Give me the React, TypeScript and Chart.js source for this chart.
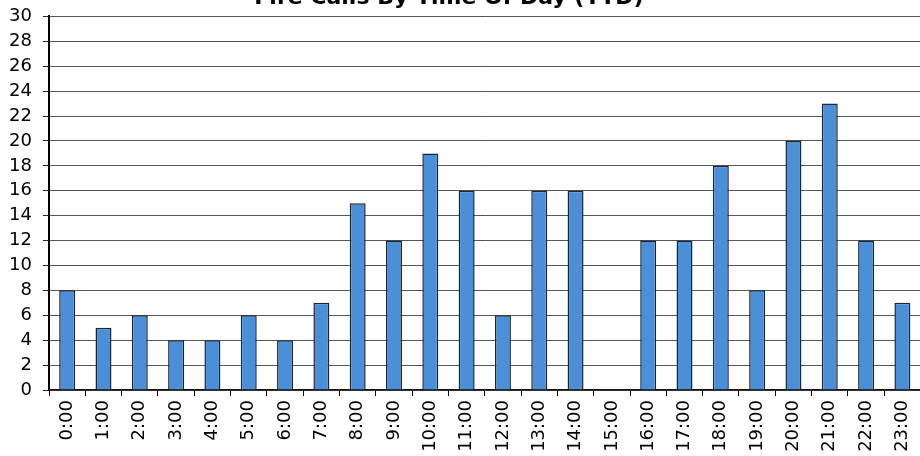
import React, { useEffect, useRef } from "react";
import { Chart, registerables } from "chart.js";

Chart.register(...registerables);

const TITLE = "Fire Calls By Time Of Day (YTD)";
const hours = [
  "0:00", "1:00", "2:00", "3:00", "4:00", "5:00", "6:00", "7:00",
  "8:00", "9:00", "10:00", "11:00", "12:00", "13:00", "14:00", "15:00",
  "16:00", "17:00", "18:00", "19:00", "20:00", "21:00", "22:00", "23:00",
];
const calls = [8, 5, 6, 4, 4, 6, 4, 7, 15, 12, 19, 16, 6, 16, 16, 0, 12, 12, 18, 8, 20, 23, 12, 7];
const yMin = 0;
const yMax = 30;
const yStep = 2;

export default function App() {
  const ref = useRef<HTMLCanvasElement | null>(null);

  useEffect(() => {
    if (!ref.current) return;
    const chart = new Chart(ref.current, {
      type: "bar",
      data: {
        labels: hours,
        datasets: [
          {
            data: calls,
            backgroundColor: "#4b8fd9",
            borderColor: "#1b2636",
            borderWidth: 1.5,
            categoryPercentage: 1,
            barPercentage: 0.44,
          },
        ],
      },
      options: {
        responsive: false,
        animation: false,
        layout: { padding: 0 },
        plugins: {
          legend: { display: false },
          tooltip: { enabled: false },
          title: {
            display: true,
            text: TITLE,
            color: "#000",
            font: { family: "DejaVu Sans", size: 22, weight: "bold" },
            padding: { top: 10, bottom: 5 },
          },
        },
        scales: {
          x: {
            afterFit: (s: any) => {
              s.height = 66;
            },
            grid: {
              offset: true,
              drawOnChartArea: false,
              drawTicks: true,
              tickLength: 6,
              color: "#000",
            },
            border: { display: true, color: "#111", width: 1.5 },
            ticks: {
              minRotation: 90,
              maxRotation: 90,
              autoSkip: false,
              padding: 4,
              color: "#000",
              font: { family: "DejaVu Sans", size: 18 },
            },
          },
          y: {
            min: yMin,
            max: yMax,
            afterFit: (s: any) => {
              s.width = 79;
            },
            grid: {
              color: "#555",
              lineWidth: 1,
              tickLength: 6,
              tickColor: "#222",
            },
            border: { display: true, color: "#000", width: 2 },
            ticks: {
              stepSize: yStep,
              padding: 11,
              color: "#000",
              font: { family: "DejaVu Sans", size: 18 },
            },
          },
        },
      },
    });
    return () => chart.destroy();
  }, []);

  return (
    <div
      style={{
        position: "fixed",
        left: 0,
        top: 0,
        width: 920,
        height: 456,
        overflow: "hidden",
        background: "#fff",
      }}
    >
      <canvas
        ref={ref}
        width={958}
        height={481}
        style={{ position: "absolute", left: -30, top: -25, width: 958, height: 481 }}
      />
    </div>
  );
}
